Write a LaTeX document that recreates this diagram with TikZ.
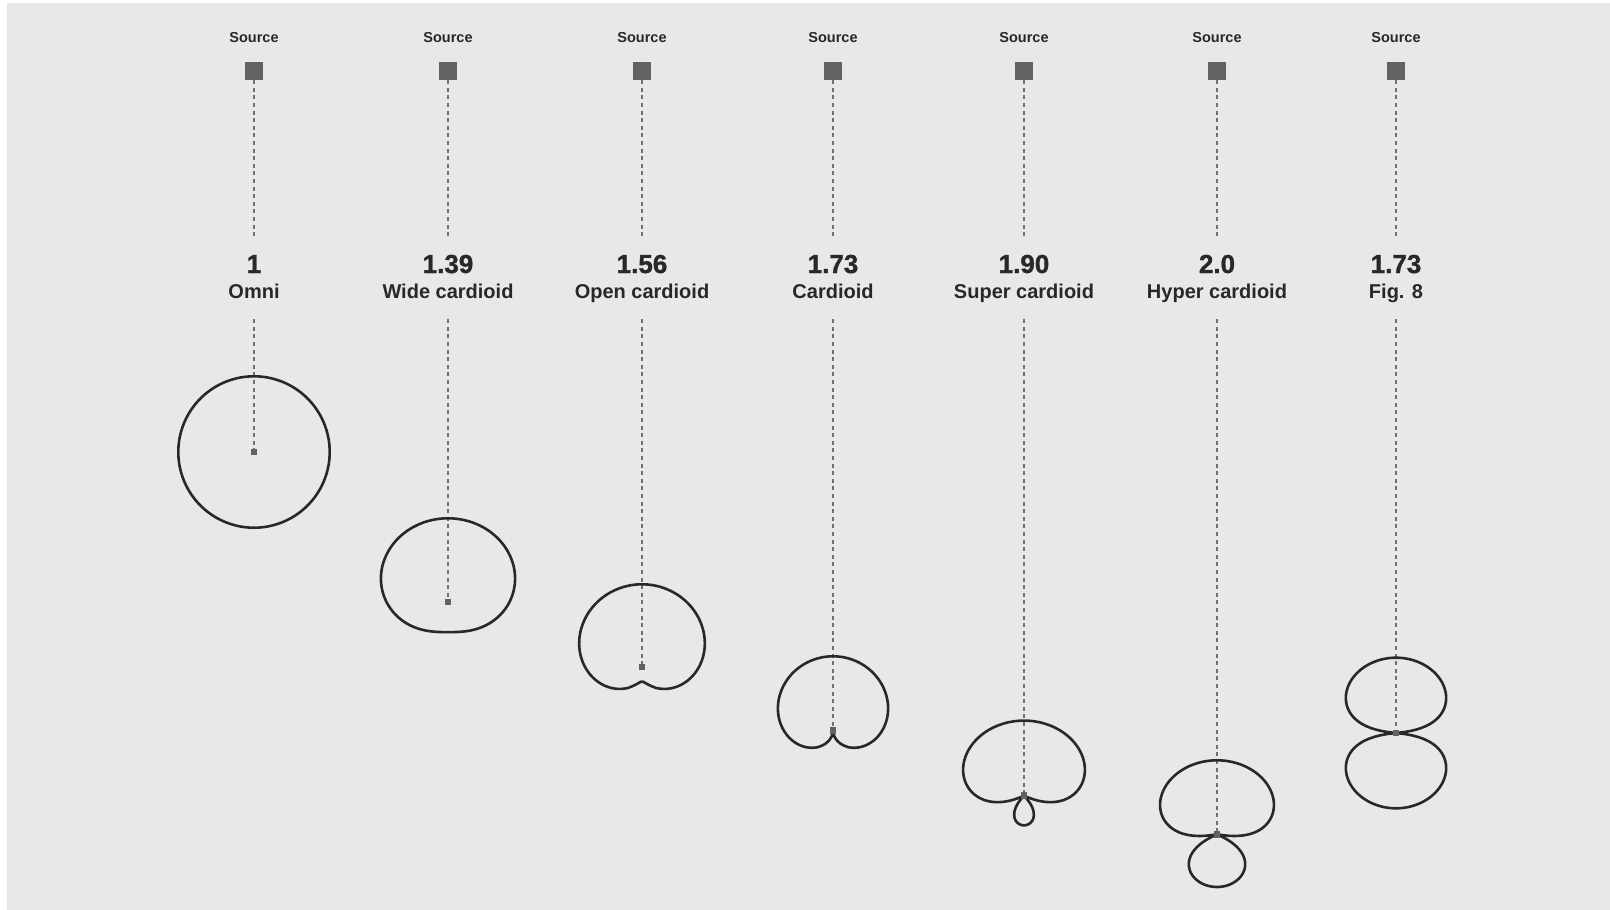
\documentclass[tikz,border=0pt]{standalone}
\usepackage{fontspec}
\setmainfont{Liberation Sans}
\newfontfamily\heavyfont[FakeBold=1.2]{Liberation Sans Bold}
\usepackage{tikz}
\usetikzlibrary{positioning}
\definecolor{PanelColor}{RGB}{232,232,232}
\definecolor{InkColor}{RGB}{40,40,40}
\definecolor{MarkColor}{RGB}{98,98,98}
\definecolor{GuideColor}{RGB}{112,112,112}
\tikzset{
  source/.style={fill=MarkColor, minimum size=18.3pt, inner sep=0pt},
  capsule/.style={fill=MarkColor, minimum size=6.5pt, inner sep=0pt},
  guide/.style={GuideColor, line width=1.6pt, dash pattern=on 4pt off 3.6pt},
  lobe/.style={InkColor, line width=2.6pt, line join=round},
  srclabel/.style={font=\bfseries\fontsize{14.5}{16}\selectfont, text=InkColor, inner sep=0pt},
  dflabel/.style={font=\heavyfont\fontsize{26}{28}\selectfont, text=InkColor, inner sep=0pt, anchor=base},
  namelabel/.style={font=\bfseries\fontsize{20}{22}\selectfont, text=InkColor, inner sep=0pt, anchor=base, text height=15pt, text depth=4.5pt}
}

\begin{document}
\begin{tikzpicture}[x=1pt, y=-1pt,
    declare function={
      resp(\t,\a)=max(abs(\a+(1-\a)*cos(\t)),0.001);
      gain(\t,\a,\p)=ifthenelse(\p==0, max(0,1+log10(resp(\t,\a))), resp(\t,\a)^\p);
    }]

    % panel
    \useasboundingbox (0,0) rectangle (1610,910);
    \fill[white] (0,0) rectangle (1610,910);
    \fill[PanelColor] (7,2.5) rectangle (1610,910);

    % one column per pattern: x / centre y / size / a / curve (0 = dB) / x-stretch / factor / name
    \foreach \i/\px/\py/\A/\a/\p/\xs/\df/\name in {
        1/254/452/75.7/1/1/1/1/Omni,
        2/448/602/83.7/0.68/1/1.08/1.39/Wide cardioid,
        3/642/667/82.7/0.528/0.6/1.01/1.56/Open cardioid,
        4/833/730.7/74.4/0.5/0.6/1/1.73/Cardioid,
        5/1024/795.7/75.1/0.376/0/1.11/1.90/Super cardioid,
        6/1217/834.3/74/0.2425/0/1.12/2.0/Hyper cardioid,
        7/1396/733/75.3/0/0/1.07/1.73/Fig. 8}
    {
        \node[source] (src\i) at (\px,70.8) {};
        \node[srclabel, above=19pt of src\i] (lbl\i) {Source};
        \node[dflabel] (num\i) at (\px,273) {\df};
        \node[namelabel] (name\i) at (\px,298) {\name};
        \coordinate (c\i) at (\px,\py);

        \draw[guide, shorten >=16pt] (src\i.south) -- (num\i.north);
        \draw[guide, shorten <=16.5pt] (name\i.south) -- (c\i);

        \draw[lobe] plot[domain=0:360, samples=361, variable=\t]
            ({\px + \xs*\A*gain(\t,\a,\p)*sin(\t)}, {\py - \A*gain(\t,\a,\p)*cos(\t)}) -- cycle;

        \node[capsule] (mic\i) at (c\i) {};
    }
\end{tikzpicture}
\end{document}
